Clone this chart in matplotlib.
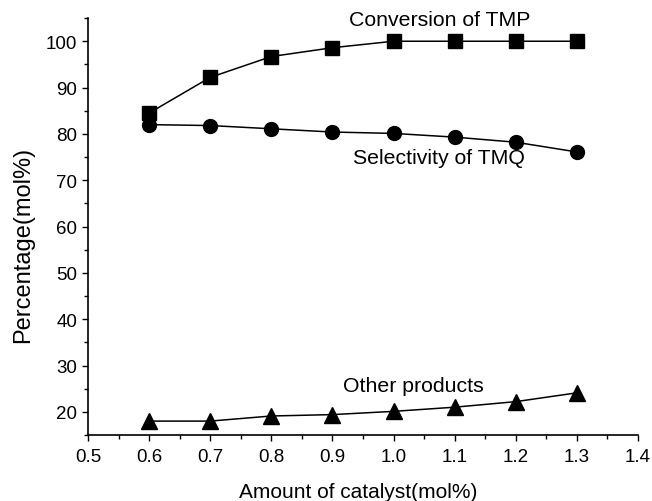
import matplotlib
matplotlib.use('Agg')
import matplotlib.pyplot as plt
from matplotlib.ticker import MultipleLocator, FormatStrFormatter

plt.rcParams['font.family'] = ['Liberation Sans', 'DejaVu Sans']

# data
catalyst = [0.6, 0.7, 0.8, 0.9, 1.0, 1.1, 1.2, 1.3]
conversion_tmp = [84.5, 92.2, 96.7, 98.6, 100.0, 100.0, 100.0, 100.0]
selectivity_tmq = [82.0, 81.8, 81.1, 80.4, 80.1, 79.3, 78.2, 76.1]
other_products = [18.0, 18.0, 19.1, 19.4, 20.1, 21.0, 22.2, 24.1]

fig = plt.figure(figsize=(6.52, 5.02), dpi=100)
ax = fig.add_axes([0.135, 0.1315, 0.8435, 0.8305])

ax.plot(catalyst, conversion_tmp, color='black', linewidth=1.1, marker='s', markersize=9.5)
ax.plot(catalyst, selectivity_tmq, color='black', linewidth=1.1, marker='o', markersize=10)
ax.plot(catalyst, other_products, color='black', linewidth=1.1, marker='^', markersize=12)

ax.text(1.075, 104.8, 'Conversion of TMP', ha='center', va='center', fontsize=15.3)
ax.text(1.075, 74.8, 'Selectivity of TMQ', ha='center', va='center', fontsize=15.3)
ax.text(1.033, 25.7, 'Other products', ha='center', va='center', fontsize=15.3)

ax.set_xlim(0.5, 1.4)
ax.set_ylim(15, 105)
ax.xaxis.set_major_locator(MultipleLocator(0.1))
ax.xaxis.set_minor_locator(MultipleLocator(0.05))
ax.yaxis.set_minor_locator(MultipleLocator(5))
ax.set_yticks(range(20, 101, 10))
ax.xaxis.set_major_formatter(FormatStrFormatter('%.1f'))

ax.tick_params(which='major', direction='out', length=4.3, width=1, labelsize=13.5)
ax.tick_params(which='minor', direction='out', length=2.8, width=1)
ax.tick_params(axis='x', which='major', pad=5)
ax.spines['top'].set_visible(False)
ax.spines['right'].set_visible(False)
for s in ['left', 'bottom']:
    ax.spines[s].set_linewidth(1.2)

ax.set_xlabel('Amount of catalyst(mol%)', fontsize=15)
ax.set_ylabel('Percentage(mol%)', fontsize=17)
ax.xaxis.set_label_coords(0.491, -0.113)
ax.yaxis.set_label_coords(-0.098, 0.458)

fig.savefig('out.png', dpi=100)
